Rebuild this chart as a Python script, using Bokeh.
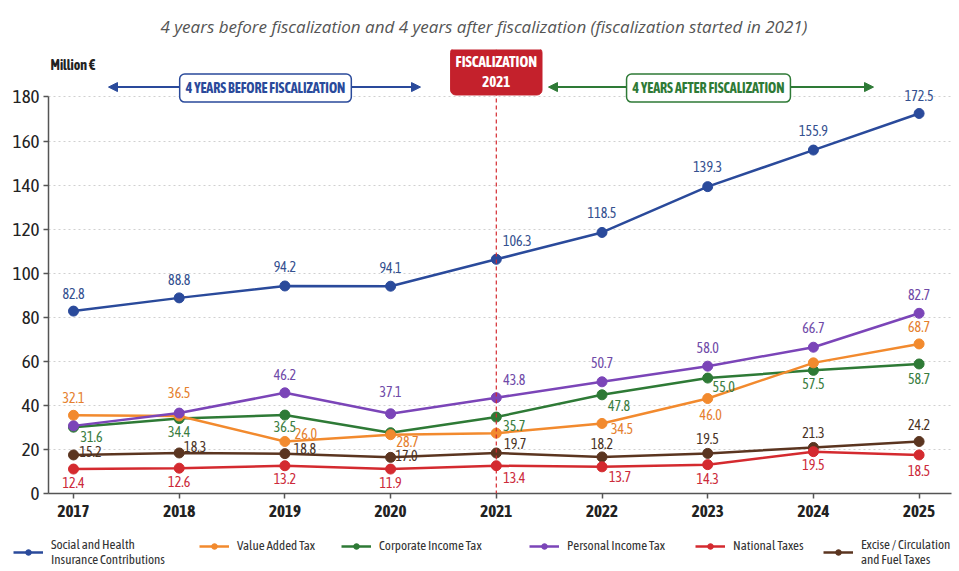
from bokeh.plotting import figure
from bokeh.layouts import column, row
from bokeh.models import (ColumnDataSource, Label, LabelSet, Arrow, NormalHead, Span,
                          Legend, LegendItem, FixedTicker, Range1d)
from bokeh.embed import file_html
from bokeh.resources import INLINE
from bokeh.core.properties import value

# ---------------- data ----------------
years = [2017, 2018, 2019, 2020, 2021, 2022, 2023, 2024, 2025]
year_labels = ["2017", "2018", "2019", "2020", "2021", "2022", "2023", "2024", "2025"]
y_ticks = [0, 20, 40, 60, 80, 100, 120, 140, 160, 180]

social = [82.8, 88.8, 94.2, 94.1, 106.3, 118.5, 139.3, 155.9, 172.5]
social_labels = ["82.8", "88.8", "94.2", "94.1", "106.3", "118.5", "139.3", "155.9", "172.5"]
vat = [35.5, 35.2, 23.6, 26.7, 27.4, 31.8, 43.1, 59.3, 67.9]
vat_labels = ["32.1", "36.5", "26.0", "28.7", "", "34.5", "46.0", "", "68.7"]
cit = [30.1, 34.0, 35.6, 27.6, 34.7, 44.8, 52.4, 55.9, 58.8]
cit_labels = ["31.6", "34.4", "36.5", "", "35.7", "47.8", "55.0", "57.5", "58.7"]
pit = [30.7, 36.5, 45.7, 36.2, 43.5, 50.7, 57.8, 66.4, 81.8]
pit_labels = ["", "", "46.2", "37.1", "43.8", "50.7", "58.0", "66.7", "82.7"]
nat = [11.1, 11.5, 12.6, 11.1, 12.6, 12.1, 13.1, 19.0, 17.5]
nat_labels = ["12.4", "12.6", "13.2", "11.9", "13.4", "13.7", "14.3", "19.5", "18.5"]
exc = [17.5, 18.4, 18.1, 16.4, 18.4, 16.6, 18.2, 20.9, 23.6]
exc_labels = ["15.2", "18.3", "18.8", "17.0", "19.7", "18.2", "19.5", "21.3", "24.2"]

series_names = ["Social and Health\nInsurance Contributions", "Value Added Tax",
                "Corporate Income Tax", "Personal Income Tax", "National Taxes",
                "Excise / Circulation\nand Fuel Taxes"]

# ---------------- layout / style (pixel offsets of value labels; +y = up) ----------------
off_social = ([0, 0, 0, 0, 21, 0, 0, 0, 0], [18, 18, 19, 19, 19, 20, 20, 20, 18])
off_vat = ([0, 0, 21, 17, 0, 20, 3, 0, 0], [18, 23, 8, -7, 0, -5, -16, 0, 17])
off_cit = ([18, 0, 0, 0, 18, 17, 16, 0, 0], [-9, -13, -11, 0, -8, -11, -8, -13, -15])
off_pit = ([0, 0, 0, 0, 18, 0, 0, 0, 0], [0, 0, 18, 22, 18, 19, 19, 20, 19])
off_nat = ([0, 0, 0, 0, 18, 18, 0, 0, 0], [-13, -13, -13, -13, -12, -10, -14, -13, -16])
off_exc = ([17, 16, 20, 16, 19, 0, 0, 0, 0], [3, 6, 5, 2, 9, 13, 15, 15, 17])

BLUE, ORANGE, GREEN = "#2a4a9b", "#f28a2e", "#2e7a36"
PURPLE, RED, BROWN = "#7b45b8", "#d42a2f", "#5b3520"
LBL = {"blue": "#34508f", "orange": "#e57f2e", "green": "#3a7d3f",
       "purple": "#6f4aa8", "red": "#cc2a3a", "brown": "#4a3325"}
NARROW = "Asap Condensed"

W = 957
H = 523          # main chart; legend strip below
LH = 46
BL, BR, BT, BB = 48, 6, 44, 30
PXY = 105.7
X0 = 2017 - (73 - BL) / PXY
X1 = X0 + (W - BL - BR) / PXY
PXV = 401 / 180.0          # px per value unit (0 at y 493, 180 at y 92)
Y1 = (H - BT - BB) / PXV


def xp(px):
    return X0 + (px - BL) / PXY


def yp(py):
    return (H - BB - py) / PXV


p = figure(width=W, height=H, x_range=Range1d(X0, X1), y_range=Range1d(0, Y1),
           output_backend="svg", toolbar_location=None,
           min_border_left=BL, min_border_right=BR, min_border_top=BT, min_border_bottom=BB,
           background_fill_color="white", border_fill_color="white", outline_line_color=None)

p.title.text = "4 years before fiscalization and 4 years after fiscalization (fiscalization started in 2021)"
p.title.align = "left"
p.title.offset = 112
p.title.text_font = "Open Sans"
p.title.text_font_style = "italic"
p.title.text_font_size = "17px"
p.title.text_color = "#555555"
p.title.standoff = 24

p.xgrid.visible = False
p.ygrid.ticker = FixedTicker(ticks=y_ticks)
p.ygrid.grid_line_color = "#d0d0d0"
p.ygrid.grid_line_dash = "2 3"

for ax in (p.xaxis[0], p.yaxis[0]):
    ax.axis_line_color = "#555555"
    ax.axis_line_width = 1.5
    ax.major_tick_line_color = "#555555"
    ax.major_tick_line_width = 1.5
    ax.major_tick_out = 5
    ax.major_tick_in = 0
    ax.minor_tick_line_color = None
    ax.major_label_text_color = "#222222"
p.xaxis.ticker = FixedTicker(ticks=years)
p.xaxis.major_label_overrides = {y: s for y, s in zip(years, year_labels)}
p.xaxis.major_label_text_font_size = "17px"
p.xaxis.major_label_text_font_style = "bold"
p.xaxis.major_label_text_font = NARROW
p.xaxis.major_label_standoff = 6
p.yaxis.ticker = FixedTicker(ticks=y_ticks)
p.yaxis.bounds = (0, 180)
p.yaxis.major_label_text_font_size = "19px"
p.yaxis.major_label_text_font = NARROW
p.yaxis.major_label_standoff = 4

# fiscalization marker line
p.add_layout(Span(location=2021, dimension="height", line_color=RED, line_dash="4 3", line_width=1.2))

series = [
    (exc, exc_labels, off_exc, BROWN, LBL["brown"], 5),
    (nat, nat_labels, off_nat, RED, LBL["red"], 4),
    (cit, cit_labels, off_cit, GREEN, LBL["green"], 2),
    (vat, vat_labels, off_vat, ORANGE, LBL["orange"], 1),
    (pit, pit_labels, off_pit, PURPLE, LBL["purple"], 3),
    (social, social_labels, off_social, BLUE, LBL["blue"], 0),
]
colors = {}
for vals, labels, (dx, dy), col, lcol, idx in series:
    src = ColumnDataSource(dict(x=years, y=vals, t=labels, dx=dx, dy=dy))
    p.line("x", "y", source=src, line_color=col, line_width=2.5)
    p.scatter("x", "y", source=src, size=10, fill_color=col, line_color=col)
    colors[idx] = col
    p.add_layout(LabelSet(x="x", y="y", text="t", source=src, x_offset="dx", y_offset="dy",
                          text_align="center", text_baseline="middle", text_font_size="14px",
                          text_color=lcol, text_font=value(NARROW)))

p.add_layout(Label(x=xp(50), y=yp(60), text="Million €", text_align="left", text_baseline="middle",
                   text_font_size="14px", text_font_style="bold", text_color="#222222",
                   text_font=NARROW))

# arrows and boxes
p.add_layout(Arrow(start=NormalHead(size=9, fill_color=BLUE, line_color=BLUE),
                   end=NormalHead(size=9, fill_color=BLUE, line_color=BLUE),
                   x_start=xp(108), y_start=yp(82), x_end=xp(420), y_end=yp(82),
                   line_color=BLUE, line_width=2))
p.add_layout(Arrow(start=NormalHead(size=9, fill_color=GREEN, line_color=GREEN),
                   end=NormalHead(size=9, fill_color=GREEN, line_color=GREEN),
                   x_start=xp(548), y_start=yp(82), x_end=xp(873), y_end=yp(82),
                   line_color=GREEN, line_width=2))
p.add_layout(Label(x=xp(265), y=yp(83), text="4 YEARS BEFORE FISCALIZATION", text_align="center",
                   text_baseline="middle", text_font_size="14px", text_font_style="bold",
                   text_color=BLUE, text_font=NARROW, background_fill_color="white",
                   border_line_color=BLUE, border_line_width=1.5, padding=6, border_radius=5))
p.add_layout(Label(x=xp(708), y=yp(83), text="4 YEARS AFTER FISCALIZATION", text_align="center",
                   text_baseline="middle", text_font_size="14px", text_font_style="bold",
                   text_color=GREEN, text_font=NARROW, background_fill_color="white",
                   border_line_color=GREEN, border_line_width=1.5, padding=6, border_radius=5))
p.add_layout(Label(x=2021, y=yp(66), text="FISCALIZATION\n2021", text_align="center",
                   text_baseline="middle", text_font_size="15px", text_font_style="bold",
                   text_color="white", text_font=NARROW, background_fill_color="#c4212c",
                   border_line_color="#c4212c", padding=5, border_radius=5))

# ---------------- legend strip ----------------
lf = figure(width=W, height=LH, x_range=Range1d(0, 1), y_range=Range1d(0, 1),
            output_backend="svg", toolbar_location=None, min_border=0,
            min_border_left=0, min_border_right=0,
            x_axis_type=None, y_axis_type=None, outline_line_color=None,
            background_fill_color="white", border_fill_color="white")
leg_pos = [(13, 2), (199, 16), (341, 16), (529, 16), (695, 16), (823, 2)]
for i, name in enumerate(series_names):
    col = colors[i]
    lr = lf.line(x=[-5, -4], y=[-5, -5], line_color=col, line_width=2.5)
    sr = lf.scatter(x=[-5], y=[-5], size=8, fill_color=col, line_color=col)
    lx, yb = leg_pos[i]
    lf.add_layout(Legend(items=[LegendItem(label=name, renderers=[lr, sr])],
                         location=(lx, yb), orientation="horizontal",
                         glyph_width=30, glyph_height=14, label_height=14, label_standoff=8,
                         padding=0, margin=0, spacing=0, border_line_color=None,
                         background_fill_alpha=0, label_text_font_size="13px",
                         label_text_line_height=1.1,
                         label_text_color="#333333", label_text_font=NARROW))

layout = column(p, row(lf))
open("out.html", "w").write(file_html(layout, INLINE))
